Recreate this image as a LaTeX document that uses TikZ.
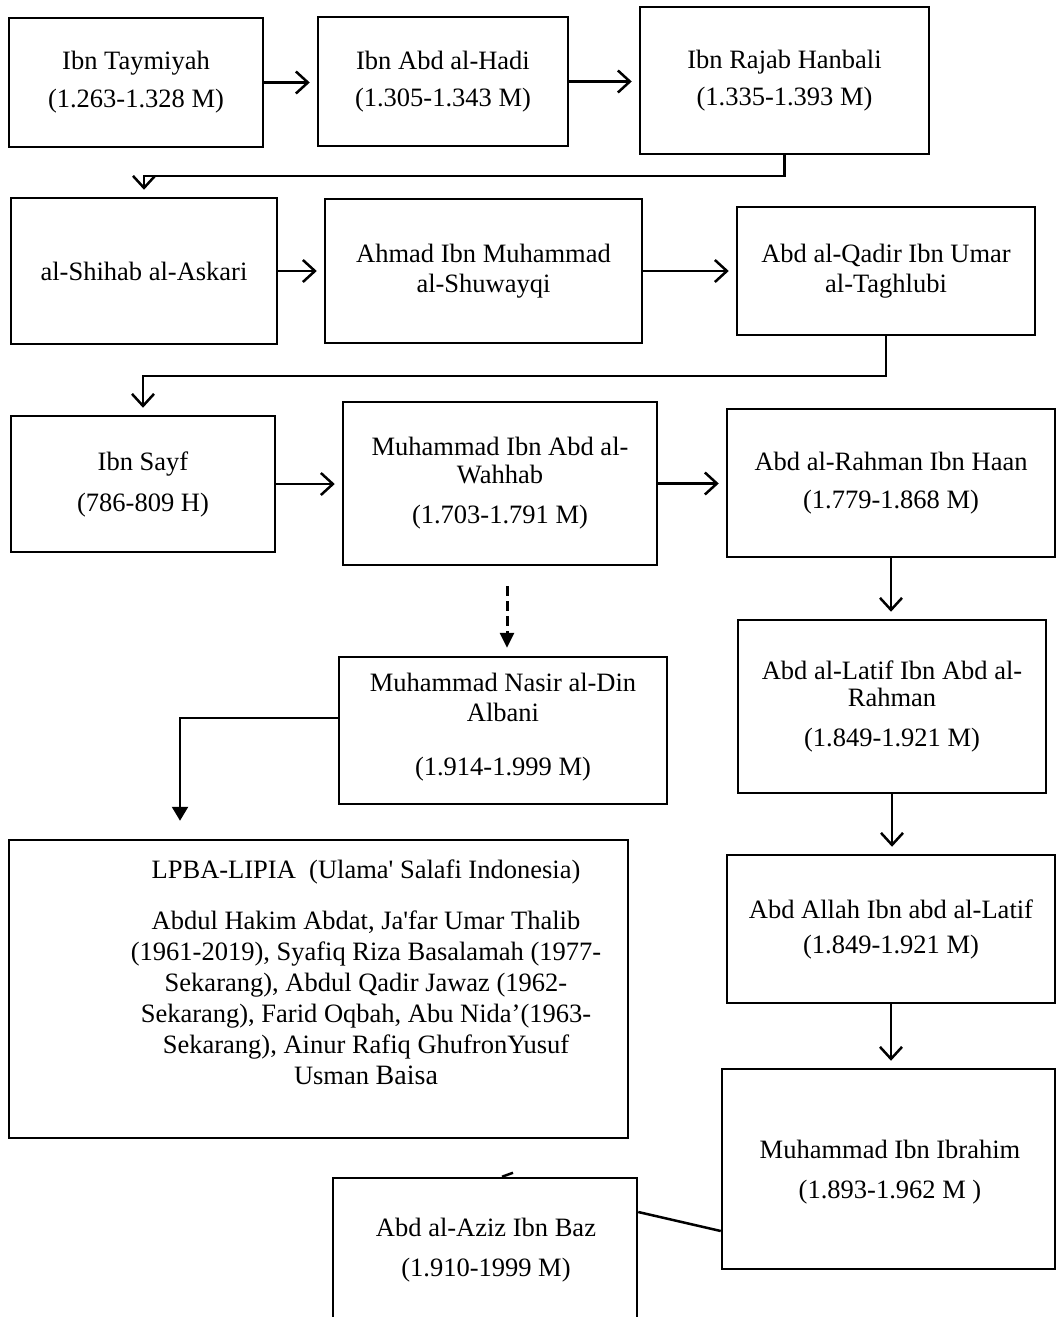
\documentclass[tikz,border=0pt]{standalone}
\usepackage{fontspec}
\setmainfont{Liberation Serif}[Ligatures=TeXOff]
\usetikzlibrary{arrows.meta,calc}
\begin{document}
\begin{tikzpicture}[x=1pt,y=-1pt,
  every node/.style={font=\fontsize{26.5}{30}\selectfont},
  bx/.style={draw, line width=2.5pt, align=center, inner sep=0pt},
  arr/.style={line width=2.5pt, -{Straight Barb[length=12pt,width=22pt]}, shorten >=7pt},
  dasharr/.style={line width=3pt, dash pattern=on 10pt off 5pt, -{Triangle[length=15pt,width=14pt]}, shorten >=8pt},
  filarr/.style={line width=2.5pt, -{Triangle[length=14pt,width=16pt]}, shorten >=18pt},
  plainln/.style={line width=2.5pt}]
\useasboundingbox (0,0) rectangle (1056,1317);
\clip (0,0) rectangle (1056,1317);
\fill[white] (0,0) rectangle (1056,1317);

% row 1
\node[bx, minimum width=254pt, minimum height=129pt] (t1) at (136,82.5) {Ibn Taymiyah\\[8pt](1.263-1.328 M)};
\node[bx, minimum width=250pt, minimum height=129pt] (t2) at (443,81.5) {Ibn Abd al-Hadi\\[7pt](1.305-1.343 M)};
\node[bx, minimum width=289pt, minimum height=147pt] (t3) at (784.5,80.5) {Ibn Rajab Hanbali\\[7pt](1.335-1.393 M)};

% row 2
\node[bx, minimum width=266pt, minimum height=146pt] (s) at (144,271) {al-Shihab al-Askari};
\node[bx, minimum width=317pt, minimum height=144pt] (a) at (483.5,271) {Ahmad Ibn Muhammad\\al-Shuwayqi};
\node[bx, minimum width=298pt, minimum height=128pt] (q) at (886,271) {Abd al-Qadir Ibn Umar\\al-Taghlubi};

% row 3
\node[bx, minimum width=264pt, minimum height=136pt] (sy) at (143,484) {Ibn Sayf\\[11pt](786-809 H)};
\node[bx, minimum width=314pt, minimum height=163pt] (w) at (500,483.5) {Muhammad Ibn Abd al-\\[-2pt]Wahhab\\[10pt](1.703-1.791 M)};
\node[bx, minimum width=328pt, minimum height=148pt] (r) at (891,483) {Abd al-Rahman Ibn Haan\\[8pt](1.779-1.868 M)};

% right column
\node[bx, minimum width=308pt, minimum height=173pt] (l) at (892,706.5) {Abd al-Latif Ibn Abd al-\\[-3pt]Rahman\\[10pt](1.849-1.921 M)};
\node[bx, minimum width=328pt, minimum height=148pt] (ab) at (891,929) {Abd Allah Ibn abd al-Latif\\[5pt](1.849-1.921 M)};
\node[bx, minimum width=333pt, minimum height=200pt] (ib) at (888.5,1169) {};
\node[align=center] (ibtx) at (890,1172) {Muhammad Ibn Ibrahim\\[10pt](1.893-1.962 M )};

% Albani
\node[bx, minimum width=328pt, minimum height=147pt] (al) at (503,730.5) {};
\node[align=center] (altx) at (503,727) {Muhammad Nasir al-Din\\Albani\\[24pt](1.914-1.999 M)};

% LPBA
\node[bx, minimum width=619pt, minimum height=298pt] (lp) at (318.5,989) {};
\node[align=center, font=\fontsize{26.5}{31}\selectfont] (lptx) at (366,972) {LPBA-LIPIA\ \ (Ulama' Salafi Indonesia)\\[20pt]
Abdul Hakim Abdat, Ja'far Umar Thalib\\
(1961-2019), Syafiq Riza Basalamah (1977-\\
Sekarang), Abdul Qadir Jawaz (1962-\\
Sekarang), Farid Oqbah, Abu Nida’(1963-\\
Sekarang), Ainur Rafiq GhufronYusuf\\
Usman {\fontsize{28}{31}\selectfont Baisa}};

% Ibn Baz
\node[bx, minimum width=304pt, minimum height=162pt] (bz) at (485,1259) {};
\node[align=center] (bztx) at (486,1250) {Abd al-Aziz Ibn Baz\\[10pt](1.910-1999 M)};

% connectors
\draw[arr] (t1.east) -- (t1.east -| t2.west);
\draw[arr] (t2.east) -- (t2.east -| t3.west);
\draw[arr] (t3.south) -- (t3.south |- 0,176) -- (s.north |- 0,176) -- (s.north);
\draw[arr] (s.east) -- (s.east -| a.west);
\draw[arr] (a.east) -- (a.east -| q.west);
\draw[arr] (q.south) -- (q.south |- 0,376) -- (sy.north |- 0,376) -- (sy.north);
\draw[arr] (sy.east) -- (sy.east -| w.west);
\draw[arr] (w.east) -- (w.east -| r.west);
\draw[arr] (r.south) -- (r.south |- l.north);
\draw[arr] (l.south) -- (l.south |- ab.north);
\draw[arr] (ab.south) -- (ab.south |- ib.north);
\draw[dasharr] ([xshift=7pt,yshift=-20pt]w.south) -- ([xshift=7pt]w.south |- al.north);
\draw[filarr] ([yshift=12.5pt]al.west) -| ([xshift=-138.5pt]lp.north);
\draw[plainln] ([yshift=-62pt]ib.west) -- ([yshift=47pt]bz.east);
\draw[line width=2.5pt] ([xshift=17pt]bz.north) -- ([xshift=28pt,yshift=4pt]bz.north);
\end{tikzpicture}
\end{document}
